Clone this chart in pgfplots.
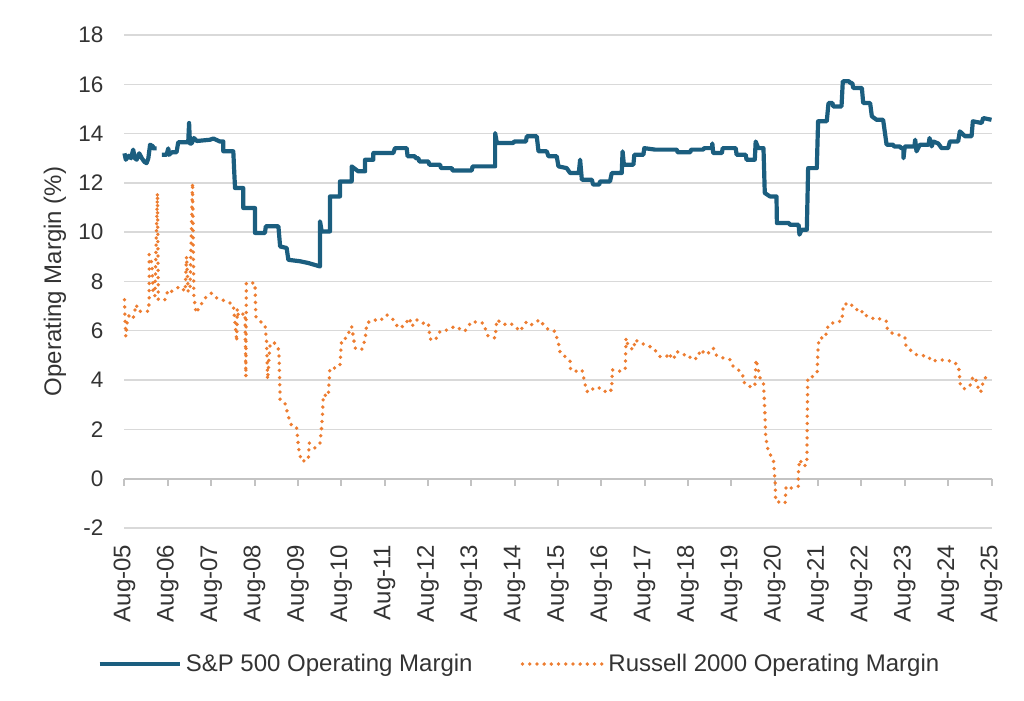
\documentclass[border=0pt]{standalone}
\usepackage{pgfplots}
\pgfplotsset{compat=1.18}
\usepackage{fontspec}
\setmainfont{Liberation Sans}
\definecolor{spblue}{HTML}{1B5E7F}
\definecolor{rusorange}{HTML}{ED7D31}
\definecolor{gridgray}{HTML}{D9D9D9}
\definecolor{txtgray}{HTML}{333333}
\begin{document}
\begin{tikzpicture}
\begin{axis}[
    scale only axis,
    width=433.5pt, height=246.5pt,
    xmin=0, xmax=20,
    ymin=-2, ymax=18,
    clip=false,
    unbounded coords=jump,
    axis line style={draw=none},
    tick style={draw=none},
    xtick={0,...,20},
    xticklabels={Aug-05,Aug-06,Aug-07,Aug-08,Aug-09,Aug-10,Aug-11,Aug-12,Aug-13,Aug-14,Aug-15,Aug-16,Aug-17,Aug-18,Aug-19,Aug-20,Aug-21,Aug-22,Aug-23,Aug-24,Aug-25},
    ytick={-2,0,...,18},
    ymajorgrids,
    grid style={gridgray, line width=0.7pt},
    /pgf/number format/assume math mode=true,
    xticklabel style={rotate=90, anchor=east, font=\fontsize{12}{14}\selectfont, text=txtgray},
    yticklabel style={anchor=east, font=\fontsize{11.25}{13}\selectfont, text=txtgray},
    xticklabel shift=4.8pt,
    yticklabel shift=7pt,
    ylabel={Operating Margin (\%)},
    ylabel style={at={([xshift=-34.75pt]axis description cs:0,0.5)}, anchor=center, font=\fontsize{12}{14}\selectfont, text=txtgray},
    legend columns=2,
    legend style={at={(axis description cs:0.4567,-0.2759)}, anchor=center, draw=none, fill=none,
        font=\fontsize{12}{14}\selectfont, text=txtgray,
        /tikz/every even column/.append style={column sep=22pt}},
    legend image code/.code={\draw[#1] (0pt,0pt) -- (40pt,0pt);},
]
% y = 0 axis line with year ticks
\draw[gridgray!90!black, line width=1pt] (axis cs:0,0) -- (axis cs:20,0);
\pgfplotsinvokeforeach{0,...,20}{\draw[gridgray!90!black, line width=1pt] (axis cs:#1,0) -- ++(0pt,-3.5pt);}

\addplot[spblue, line width=2.1pt, line join=round] coordinates {
(0.00,13.2)(0.03,12.94)(0.10,13.1)(0.15,13.0)(0.20,13.35)(0.24,13.0)(0.28,12.94)(0.34,13.2)(0.40,13.0)(0.46,12.85)(0.51,12.8)(0.55,13.0)(0.59,13.55)(0.66,13.48)(0.66,13.4)(0.74,13.4)
(0.80,nan)
(0.86,13.14)(0.97,13.14)(1.01,13.4)(1.03,13.14)(1.09,13.24)(1.20,13.24)(1.24,13.65)(1.47,13.65)(1.49,14.43)(1.51,13.6)(1.55,13.6)(1.60,13.82)(1.67,13.7)(1.97,13.75)(2.05,13.8)(2.20,13.68)(2.28,13.68)(2.28,13.28)(2.51,13.28)(2.53,12.5)(2.55,11.79)(2.74,11.79)(2.74,10.98)(3.01,10.98)(3.01,9.97)(3.24,9.97)(3.26,10.24)(3.55,10.24)(3.59,9.42)(3.74,9.36)(3.78,8.88)(4.05,8.82)(4.24,8.75)(4.51,8.61)(4.51,10.44)(4.55,10.03)(4.74,10.03)(4.74,11.45)(4.97,11.45)(4.97,12.06)(5.24,12.06)(5.24,12.67)(5.39,12.47)(5.55,12.47)(5.55,12.94)(5.74,12.94)(5.74,13.21)(6.20,13.21)
(6.24,13.41)(6.51,13.41)(6.53,13.08)(6.70,13.08)(6.72,13.0)(6.78,13.0)(6.80,12.87)(7.01,12.87)(7.03,12.74)(7.28,12.74)(7.30,12.6)(7.55,12.6)(7.57,12.5)(8.01,12.5)(8.03,12.67)(8.55,12.67)(8.55,14.02)(8.59,13.62)(8.97,13.62)(8.99,13.68)(9.26,13.68)(9.28,13.89)(9.51,13.89)(9.55,13.28)(9.74,13.28)(9.78,13.08)(9.97,13.08)(10.01,12.67)(10.20,12.6)(10.28,12.4)(10.48,12.4)(10.51,12.94)(10.55,12.13)(10.78,12.13)(10.81,11.93)(10.95,11.93)(10.97,12.06)(11.20,12.06)(11.24,12.4)(11.47,12.4)(11.49,13.28)(11.52,12.74)(11.74,12.74)(11.76,13.14)(11.97,13.14)(11.99,13.41)(12.24,13.35)(12.74,13.35)(12.76,13.24)(13.05,13.24)(13.07,13.35)(13.35,13.35)(13.37,13.41)(13.55,13.41)(13.56,13.6)(13.58,13.21)(13.78,13.21)(13.80,13.41)(14.10,13.41)(14.12,13.14)(14.33,13.14)(14.35,12.94)(14.54,12.94)(14.56,13.68)(14.62,13.41)(14.74,13.41)(14.77,11.59)(14.89,11.45)(15.04,11.45)(15.05,10.37)(15.33,10.37)(15.35,10.3)(15.55,10.3)(15.57,9.9)(15.62,10.1)(15.74,10.1)(15.77,12.6)(15.97,12.6)(16.00,14.5)(16.20,14.5)(16.24,15.24)(16.33,15.24)(16.35,15.1)(16.54,15.1)(16.57,16.12)(16.72,16.12)(16.74,16.05)(16.79,16.05)(16.81,15.85)(17.01,15.85)(17.04,15.24)(17.20,15.24)(17.24,14.7)(17.35,14.56)(17.50,14.56)(17.58,13.55)(17.73,13.55)(17.75,13.48)(17.89,13.48)(17.91,13.41)(17.97,13.41)(17.97,13.0)(18.00,13.48)(18.22,13.48)(18.24,13.75)(18.27,13.28)(18.35,13.55)(18.55,13.55)(18.57,13.82)(18.62,13.48)(18.66,13.68)(18.77,13.6)(18.85,13.41)(19.00,13.41)(19.04,13.68)(19.23,13.68)(19.27,14.09)(19.39,13.89)(19.54,13.89)(19.57,14.5)(19.77,14.43)(19.81,14.63)(20.00,14.56)
};
\addlegendentry{S\&P 500 Operating Margin}

\addplot[rusorange, line width=1.9pt, line cap=round, dash pattern=on 0pt off 3.6pt] coordinates {
(0.00,7.26)(0.01,6.58)(0.03,5.77)(0.06,6.31)(0.11,6.65)(0.20,6.52)(0.27,7.06)(0.32,6.79)(0.42,6.79)(0.55,6.79)(0.57,7.19)(0.57,9.09)(0.63,8.75)(0.66,7.53)(0.70,7.4)(0.76,11.59)(0.78,7.26)(0.93,7.26)(1.01,7.67)(1.09,7.6)(1.28,7.8)(1.40,7.6)(1.43,9.02)(1.47,7.6)(1.51,7.6)(1.57,12.0)(1.60,7.4)(1.65,6.72)(1.74,6.99)(1.86,7.33)(2.01,7.53)(2.13,7.33)(2.36,7.19)(2.51,7.06)(2.59,5.57)(2.60,6.9)(2.63,6.58)(2.78,6.72)(2.80,4.15)(2.81,7.94)(3.01,7.94)(3.03,6.58)(3.13,6.38)(3.24,6.25)(3.28,5.5)(3.30,4.02)(3.36,5.5)(3.47,5.5)(3.56,5.23)(3.59,3.2)(3.70,3.07)(3.78,2.53)(3.86,2.12)(3.97,2.06)(4.03,1.04)(4.09,0.7)(4.24,0.77)(4.26,1.45)(4.39,1.25)(4.51,1.45)(4.55,2.12)(4.59,3.41)(4.70,3.34)(4.74,4.49)(4.90,4.49)(4.97,4.62)(5.01,5.64)(5.12,5.71)(5.24,6.18)(5.32,5.3)(5.47,5.23)(5.55,5.64)(5.59,6.31)(5.74,6.45)(5.89,6.4)(6.05,6.65)(6.20,6.45)(6.32,6.11)(6.45,6.2)(6.57,6.52)(6.63,6.18)(6.74,6.45)(6.86,6.31)(7.01,6.31)(7.05,5.67)(7.16,5.6)(7.28,5.98)(7.47,6.04)(7.62,6.18)(7.85,5.98)(8.01,6.38)(8.28,6.31)(8.32,6.1)(8.39,5.77)(8.55,5.71)(8.59,6.45)(8.74,6.25)(8.89,6.31)(9.01,6.18)(9.12,5.98)(9.28,6.38)(9.39,6.25)(9.58,6.45)(9.66,6.25)(9.78,6.04)(9.93,5.98)(10.01,5.5)(10.05,5.1)(10.16,4.96)(10.28,4.76)(10.29,4.42)(10.39,4.35)(10.55,4.42)(10.58,4.22)(10.62,3.88)(10.66,3.54)(10.78,3.54)(10.81,3.68)(11.01,3.68)(11.12,3.48)(11.24,3.61)(11.25,4.42)(11.39,4.35)(11.55,4.42)(11.57,5.71)(11.62,5.37)(11.74,5.23)(11.78,5.64)(11.89,5.5)(12.01,5.44)(12.20,5.3)(12.35,4.96)(12.51,4.96)(12.54,5.1)(12.66,4.83)(12.74,5.16)(12.89,5.03)(13.01,5.03)(13.08,4.83)(13.23,4.9)(13.28,5.23)(13.43,5.03)(13.58,5.3)(13.66,4.99)(13.81,4.9)(13.97,4.83)(14.04,4.56)(14.16,4.42)(14.26,4.22)(14.27,3.95)(14.39,3.74)(14.54,3.74)(14.57,4.83)(14.62,4.42)(14.66,4.09)(14.74,3.88)(14.77,2.8)(14.79,1.72)(14.85,1.11)(14.97,0.77)(15.01,-0.18)(15.02,-0.92)(15.24,-0.99)(15.26,-0.31)(15.39,-0.38)(15.54,-0.31)(15.55,0.43)(15.58,0.77)(15.66,0.5)(15.74,0.57)(15.75,2.26)(15.76,4.09)(15.89,4.15)(15.98,4.35)(16.00,5.37)(16.03,5.71)(16.16,5.71)(16.24,6.25)(16.43,6.38)(16.54,6.38)(16.57,6.72)(16.58,7.06)(16.74,7.13)(16.85,6.86)(17.01,6.86)(17.02,6.65)(17.20,6.58)(17.31,6.45)(17.43,6.49)(17.58,6.38)(17.60,6.04)(17.70,5.91)(17.85,5.84)(18.00,5.75)(18.03,5.37)(18.12,5.23)(18.27,5.03)(18.43,4.99)(18.54,4.96)(18.62,4.76)(18.81,4.83)(18.97,4.79)(19.12,4.76)(19.24,4.56)(19.26,4.22)(19.27,3.88)(19.35,3.64)(19.47,3.7)(19.54,3.88)(19.57,4.15)(19.66,3.95)(19.70,3.61)(19.75,3.5)(19.80,3.88)(19.85,4.09)(19.93,4.11)(19.99,4.12)
};
\addlegendentry{Russell 2000 Operating Margin}
\end{axis}
\pgfresetboundingbox
\path[use as bounding box] ([shift={(-62.25pt,-86.5pt)}]current axis.south west) rectangle ++(512pt,350.5pt);
\end{tikzpicture}
\end{document}
